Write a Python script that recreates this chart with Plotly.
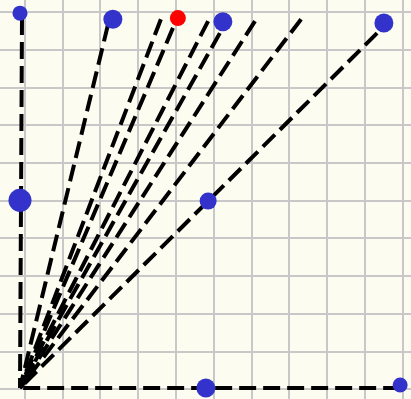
import plotly.graph_objects as go

# Common start point of every ray
origin_x = -0.127
origin_y = 0.04

# Ray end points
ray_end_x = [-0.074, 2.20, 3.60, 3.92, 4.85, 5.16, 6.09, 7.31, 9.32, 9.93]
ray_end_y = [9.84, 9.66, 9.81, 9.58, 9.76, 9.44, 9.76, 9.81, 9.44, 0.04]

# Blue points
blue_x = [-0.127, 2.33, 5.24, 9.50, -0.127, 4.85, 4.79, 9.93]
blue_y = [9.97, 9.81, 9.74, 9.71, 5.01, 4.99, 0.04, 0.12]
blue_size = [15, 19, 19, 19, 23, 17, 19, 15]

# Red point
red_x = [4.05]
red_y = [9.84]
red_size = [16]

fig = go.Figure()

# Each ray is stroked from its outer end back to the shared origin,
# so the dash pattern starts cleanly at the outer end.
for ex, ey in zip(ray_end_x, ray_end_y):
    fig.add_trace(go.Scatter(
        x=[ex, origin_x], y=[ey, origin_y], mode="lines",
        line=dict(color="black", width=4, dash="17px,7px"),
        hoverinfo="skip", showlegend=False,
    ))

fig.add_trace(go.Scatter(
    x=blue_x, y=blue_y, mode="markers",
    marker=dict(color="#3333cc", size=blue_size, opacity=1, line=dict(width=0)),
    showlegend=False,
))
fig.add_trace(go.Scatter(
    x=red_x, y=red_y, mode="markers",
    marker=dict(color="#ff0000", size=red_size, opacity=1, line=dict(width=0)),
    showlegend=False,
))

axis_common = dict(
    dtick=1, tick0=0, showgrid=True, gridcolor="#c8c8c8", gridwidth=2,
    zeroline=False, showticklabels=False, ticks="", showline=False,
    fixedrange=True,
)
fig.update_xaxes(range=[-0.656, 10.217], **axis_common)
fig.update_yaxes(range=[-0.252, 10.318], **axis_common)

fig.update_layout(
    width=411, height=399,
    margin=dict(l=0, r=0, t=0, b=0),
    paper_bgcolor="#fcfcf0", plot_bgcolor="#fcfcf0",
)

fig.write_html("out.html")
